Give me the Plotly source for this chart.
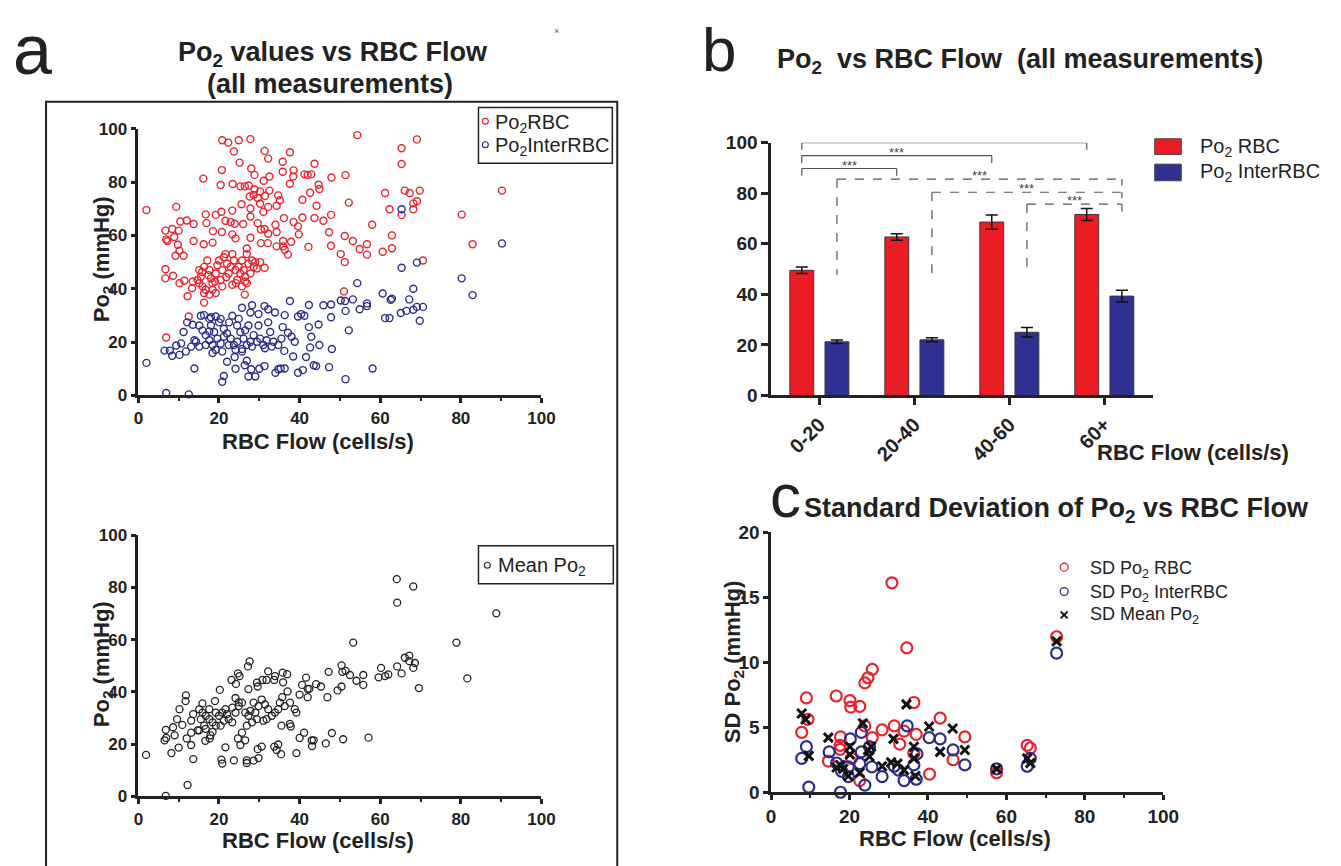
import plotly.graph_objects as go

W, H = 1341, 866
FONT = "Liberation Sans, Arial, sans-serif"
RED = "#e8232b"
BLUE = "#2b2e8c"
BAR_RED = "#ec1c24"
BAR_BLUE = "#2e3192"
INK = "#222222"

# ---------------- Panel a (top): Po2 RBC / Po2 InterRBC vs flow -------------
po2_rbc_points = [
    (2.0, 69.5), (20.8, 95.7), (22.3, 94.8), (24.9, 95.7), (27.8, 96.1), (23.7, 91.5),
    (31.3, 91.7), (32.2, 88.8), (37.6, 91.2), (35.8, 87.6), (25.1, 87.3), (20.7, 84.5),
    (16.1, 81.3), (28.0, 85.1), (28.8, 82.7), (31.1, 80.5), (32.5, 82.1), (38.5, 84.4),
    (38.4, 82.1), (35.8, 83.9), (37.6, 79.4), (41.2, 82.9), (42.0, 82.7), (42.9, 82.9),
    (43.7, 86.9), (47.9, 81.7), (51.4, 82.6), (54.3, 97.6), (65.3, 92.7), (65.3, 86.8),
    (69.1, 96.0), (90.2, 76.8), (61.2, 75.9), (66.1, 76.8), (67.3, 75.9), (69.8, 76.8),
    (69.1, 72.8), (68.2, 72.0), (68.2, 69.8), (62.3, 69.8), (65.3, 67.7), (80.2, 67.8),
    (82.9, 56.7), (70.6, 50.6), (58.0, 64.0), (62.9, 60.0), (62.9, 55.2), (60.6, 53.9),
    (56.7, 56.7), (56.7, 52.8), (54.9, 54.9), (53.2, 57.9), (51.2, 59.8), (50.2, 53.0),
    (51.2, 50.0), (52.2, 72.3), (47.8, 67.7), (47.3, 61.2), (47.8, 56.1), (45.9, 65.5),
    (44.2, 71.1), (44.9, 77.4), (44.7, 79.0), (42.6, 76.0), (40.7, 73.4), (40.7, 66.7),
    (43.7, 66.5), (42.2, 55.7), (39.6, 63.4), (39.8, 60.4), (38.5, 65.0), (37.9, 57.6),
    (37.1, 52.8), (36.3, 54.6), (35.9, 57.9), (36.1, 66.5), (35.1, 73.2), (34.7, 75.0),
    (34.3, 71.1), (32.5, 76.8), (31.4, 74.8), (31.0, 68.9), (32.2, 70.7), (30.2, 71.9),
    (29.6, 74.0), (28.6, 75.2), (28.8, 77.2), (27.4, 78.7), (26.4, 78.4), (25.3, 78.4),
    (23.4, 79.3), (20.4, 78.9), (30.2, 76.5), (27.6, 74.6), (25.6, 71.7), (27.8, 70.1),
    (23.3, 69.3), (20.6, 68.9), (19.2, 67.7), (16.7, 67.9), (16.9, 64.6), (21.6, 65.5),
    (22.9, 65.0), (23.9, 64.4), (26.0, 64.3), (27.8, 67.1), (29.6, 64.6), (31.3, 62.4),
    (30.4, 62.2), (34.0, 64.0), (34.3, 61.3), (32.2, 60.6), (30.4, 57.1), (32.1, 57.1),
    (34.3, 55.9), (35.9, 55.9), (23.3, 60.4), (24.1, 58.9), (27.8, 59.1), (20.7, 61.3),
    (18.5, 61.6), (16.2, 56.7), (18.4, 57.3), (13.7, 57.9), (13.7, 64.3), (12.0, 65.6),
    (10.4, 65.2), (9.4, 70.7), (8.4, 62.4), (6.7, 61.8), (10.0, 61.8), (6.9, 58.5),
    (7.2, 57.9), (8.9, 59.4), (9.8, 56.5), (10.2, 54.3), (9.2, 52.4), (11.2, 52.4),
    (6.7, 47.3), (6.7, 43.9), (8.6, 44.9), (10.2, 42.1), (11.4, 43.0), (13.5, 42.7),
    (13.3, 40.2), (12.2, 37.2), (12.5, 29.6), (6.9, 21.7), (26.4, 37.8), (51.0, 39.0),
    (26.9, 55.1), (26.9, 53.0), (15.1, 47.0), (15.5, 44.5), (16.3, 48.2), (17.1, 50.6),
    (17.6, 47.0), (18.0, 43.9), (15.9, 40.9), (16.7, 39.6), (17.6, 37.8), (18.4, 42.1),
    (19.2, 45.7), (19.6, 48.8), (20.0, 50.6), (20.4, 43.3), (20.8, 47.0), (21.2, 51.8),
    (21.6, 53.0), (22.0, 49.4), (22.4, 45.7), (22.9, 48.2), (23.3, 53.0), (23.7, 50.6),
    (24.1, 47.0), (24.5, 43.3), (24.9, 48.2), (25.3, 45.7), (25.7, 50.6), (26.1, 47.0),
    (26.5, 44.5), (26.9, 42.1), (27.3, 49.4), (27.8, 45.7), (28.2, 50.6), (28.6, 48.2),
    (29.0, 50.0), (29.4, 47.6), (30.2, 50.0), (31.3, 47.9), (16.3, 34.8), (15.1, 42.1),
    (18.4, 39.6), (20.8, 40.9), (23.3, 41.5), (25.7, 40.9), (16.3, 38.4), (19.2, 38.4),
    (14.7, 43.3), (15.8, 46.3), (17.4, 45.1), (19.0, 42.7), (21.8, 44.3), (24.2, 42.1),
    (26.5, 42.7),
]

po2_inter_points = [
    (2.0, 12.2), (6.9, 0.9), (12.5, 0.4), (65.3, 69.8), (90.2, 57.0), (69.1, 49.8),
    (65.3, 47.9), (80.2, 43.9), (82.9, 37.6), (68.2, 40.0), (67.2, 36.0), (70.6, 33.2),
    (69.1, 33.2), (68.2, 32.1), (66.5, 31.7), (65.1, 30.9), (69.8, 28.0), (62.9, 36.3),
    (62.6, 35.9), (60.6, 38.2), (62.3, 29.0), (61.2, 29.0), (56.7, 34.5), (56.7, 33.5),
    (54.9, 32.3), (53.2, 36.0), (54.3, 42.1), (51.3, 35.4), (51.4, 31.7), (50.2, 35.6),
    (52.2, 24.4), (51.4, 6.1), (58.1, 10.1), (47.8, 29.3), (47.8, 34.1), (45.9, 33.8),
    (48.0, 17.4), (47.3, 10.6), (44.9, 18.9), (44.7, 26.6), (42.3, 33.9), (42.3, 25.6),
    (42.9, 22.0), (42.6, 18.0), (41.6, 14.4), (43.5, 11.3), (44.1, 11.0), (39.6, 29.6),
    (40.4, 30.5), (41.2, 29.9), (39.6, 8.5), (40.8, 9.5), (37.6, 35.4), (36.3, 30.1),
    (35.8, 25.6), (37.1, 23.5), (38.0, 22.0), (38.8, 20.1), (38.4, 14.6), (36.2, 16.7),
    (36.3, 10.1), (35.3, 10.1), (34.7, 9.8), (34.0, 8.5), (31.3, 11.0), (30.0, 10.0),
    (29.0, 7.1), (27.3, 7.1), (28.0, 9.8), (26.4, 11.3), (26.9, 13.0), (24.1, 10.0),
    (25.7, 17.4), (23.9, 14.4), (22.0, 12.6), (20.8, 5.1), (21.2, 7.3), (13.9, 10.1),
    (6.5, 16.8), (8.4, 14.9), (10.2, 15.2), (7.8, 16.8), (9.4, 18.7), (10.6, 19.5),
    (11.2, 23.8), (12.1, 27.4), (13.5, 26.5), (13.9, 20.7), (15.5, 29.9), (16.3, 30.1),
    (18.0, 29.3), (19.2, 29.6), (20.4, 28.7), (23.3, 29.9), (25.7, 32.9), (28.2, 33.8),
    (31.3, 33.5), (32.2, 32.3), (33.9, 31.1), (27.8, 31.1), (29.8, 30.5), (15.1, 26.2),
    (15.9, 24.4), (16.7, 22.6), (17.6, 20.7), (18.4, 18.9), (19.2, 17.1), (16.7, 18.9),
    (18.0, 26.2), (18.8, 23.8), (19.6, 21.3), (20.4, 19.5), (21.2, 25.0), (22.0, 23.2),
    (22.9, 21.3), (23.7, 18.9), (24.5, 26.2), (25.3, 23.8), (26.1, 21.3), (26.9, 18.9),
    (27.8, 20.1), (28.6, 22.6), (29.4, 20.1), (30.2, 21.3), (31.0, 18.9), (31.8, 20.7),
    (32.7, 23.8), (33.5, 20.1), (34.7, 18.9), (35.5, 21.3), (22.5, 27.4), (20.0, 27.4),
    (17.6, 28.7), (24.9, 28.7), (27.3, 26.2), (29.8, 26.2), (32.2, 27.4), (20.8, 16.5),
    (18.4, 15.9), (24.1, 17.1), (14.3, 20.1), (15.1, 18.3), (13.1, 18.3), (11.8, 16.5),
    (22.4, 18.9), (25.7, 16.5), (28.2, 18.3), (31.4, 17.7), (33.1, 18.3), (17.6, 24.0),
    (21.2, 22.0), (24.5, 20.1), (26.5, 24.4),
]

# ---------------- Panel a (bottom): mean Po2 vs flow ------------------------
mean_po2_points = [
    (1.9, 15.9), (6.8, 0.2), (12.2, 4.4), (6.5, 21.5), (6.9, 22.4), (6.8, 25.5),
    (8.2, 16.6), (10.0, 18.7), (9.0, 23.4), (8.6, 26.5), (9.6, 29.6), (10.9, 27.4),
    (10.2, 33.4), (11.7, 36.5), (11.8, 38.7), (12.0, 22.2), (13.1, 19.7), (13.6, 14.3),
    (13.1, 24.4), (13.1, 29.0), (13.6, 31.5), (15.1, 25.3), (15.9, 35.6), (16.6, 21.3),
    (17.7, 22.2), (19.0, 36.5), (20.2, 40.8), (20.6, 14.1), (20.8, 12.6), (21.6, 18.8),
    (23.1, 44.6), (23.7, 13.8), (24.2, 43.1), (24.7, 47.1), (25.1, 46.1), (24.7, 22.2),
    (25.3, 19.7), (25.7, 24.4), (26.5, 21.5), (26.9, 12.8), (26.9, 13.8), (27.2, 49.8),
    (27.6, 51.7), (27.3, 41.1), (28.6, 13.7), (29.6, 18.1), (29.8, 14.7), (30.6, 19.1),
    (29.4, 43.6), (29.6, 42.1), (30.8, 44.6), (31.8, 44.6), (32.2, 47.9), (33.9, 46.1),
    (33.7, 44.6), (35.8, 47.4), (36.9, 46.8), (35.9, 43.7), (37.0, 40.2), (35.7, 38.0),
    (35.1, 35.9), (35.5, 27.1), (37.6, 27.8), (37.8, 26.8), (33.7, 19.1), (34.7, 19.9),
    (34.3, 17.8), (35.4, 16.2), (39.2, 16.6), (40.0, 22.4), (41.1, 24.4), (40.0, 39.0),
    (40.6, 42.7), (41.6, 45.5), (42.0, 41.2), (42.0, 38.0), (42.4, 41.2), (43.0, 21.5),
    (43.5, 21.5), (43.1, 19.3), (44.1, 43.0), (45.3, 42.1), (46.9, 38.0), (47.2, 47.7),
    (48.0, 24.3), (46.5, 20.3), (49.4, 40.6), (50.4, 42.1), (50.4, 50.2), (50.6, 47.7),
    (51.4, 48.1), (52.5, 46.5), (50.8, 21.9), (53.3, 58.9), (54.1, 44.3), (55.8, 46.5),
    (55.8, 42.7), (57.1, 22.5), (59.6, 45.6), (60.2, 49.2), (61.2, 46.1), (62.0, 46.7),
    (64.1, 83.2), (64.2, 74.2), (64.2, 49.8), (65.3, 47.1), (68.2, 80.4), (66.1, 53.1),
    (67.2, 53.9), (67.2, 51.8), (68.6, 51.1), (68.2, 49.2), (69.6, 41.5), (78.9, 58.9),
    (81.6, 45.2), (88.8, 70.1), (15.1, 33.4), (15.9, 32.1), (16.7, 30.9), (17.6, 29.6),
    (18.4, 28.4), (19.2, 27.1), (20.0, 30.9), (20.8, 32.1), (21.6, 33.4), (22.4, 29.6),
    (23.3, 28.4), (24.1, 32.1), (24.9, 34.6), (25.7, 35.9), (26.5, 32.1), (27.3, 30.9),
    (28.2, 28.4), (29.0, 32.1), (29.8, 34.6), (30.6, 37.1), (31.4, 35.2), (32.2, 33.4),
    (33.1, 30.9), (33.9, 32.1), (34.7, 33.4), (36.3, 34.6), (37.6, 35.9), (38.8, 33.4),
    (39.2, 32.1), (16.7, 25.9), (17.9, 23.4), (16.3, 27.1), (19.2, 32.1), (20.4, 27.1),
    (21.2, 29.0), (22.0, 31.5), (23.3, 34.0), (24.1, 37.7), (24.9, 36.0), (26.9, 27.1),
    (27.8, 32.8), (28.6, 35.9), (29.4, 29.6), (31.0, 29.0), (31.8, 29.6), (15.5, 29.6),
    (14.7, 25.3), (18.4, 24.7), (17.6, 33.4),
]

# ---------------- Panel b: binned means with SEM -----------------------------
flow_bins = ["0-20", "20-40", "40-60", "60+"]
bar_po2_rbc = [49.5, 62.7, 68.6, 71.6]
bar_po2_rbc_err = [1.3, 1.3, 2.8, 2.4]
bar_po2_inter = [21.2, 22.0, 25.0, 39.3]
bar_po2_inter_err = [0.7, 0.8, 1.9, 2.3]

# ---------------- Panel c: SD vs flow ----------------------------------------
sd_rbc_points = [
    (30.8, 16.1), (34.6, 11.1), (25.8, 9.45), (24.7, 8.8), (23.9, 8.4), (9.0, 7.25),
    (16.6, 7.4), (20.1, 7.05), (20.3, 6.55), (22.6, 6.6), (36.4, 6.9), (9.4, 5.6),
    (7.8, 4.6), (43.1, 5.7), (31.4, 5.1), (28.3, 4.8), (33.9, 4.7), (37.0, 4.45),
    (25.8, 4.2), (17.7, 4.25), (17.6, 3.6), (17.6, 3.3), (32.8, 3.7), (49.4, 4.25),
    (46.4, 2.5), (40.4, 1.4), (22.6, 0.9), (14.6, 2.4), (20.5, 2.6), (36.4, 3.0),
    (57.5, 1.5), (65.3, 3.6), (66.1, 3.4), (72.8, 11.95), (23.9, 5.1),
]
sd_inter_points = [
    (72.8, 10.7), (34.7, 5.1), (23.0, 4.6), (20.2, 4.1), (40.3, 4.2), (43.1, 4.1),
    (46.4, 3.25), (49.4, 2.1), (9.0, 3.5), (7.8, 2.6), (14.8, 3.1), (9.6, 0.4),
    (17.7, 0.0), (23.9, 0.55), (22.6, 2.2), (19.7, 1.95), (19.7, 1.2), (25.7, 1.95),
    (28.3, 1.2), (31.4, 2.0), (32.5, 1.7), (33.9, 0.9), (36.4, 2.1), (37.0, 1.0),
    (37.2, 2.95), (23.0, 3.1), (25.1, 3.5), (16.7, 2.25), (57.5, 1.8), (65.3, 2.0),
    (66.1, 2.6), (18.0, 1.6),
]
sd_mean_points = [
    (72.8, 11.6), (7.8, 6.05), (8.8, 5.6), (9.6, 2.8), (14.6, 4.2), (23.4, 5.3),
    (34.5, 6.75), (40.3, 5.05), (46.3, 4.9), (31.2, 4.1), (43.1, 3.1), (49.4, 3.25),
    (20.1, 3.5), (24.7, 3.25), (25.5, 3.5), (25.1, 2.75), (36.4, 3.5), (36.4, 2.6),
    (36.8, 1.25), (28.3, 2.0), (30.6, 2.3), (32.2, 2.2), (33.9, 1.7), (16.7, 1.9),
    (17.6, 2.1), (18.4, 1.8), (19.7, 1.25), (22.6, 1.5), (20.1, 2.9), (57.5, 1.8),
    (65.3, 2.6), (66.1, 2.25),
]


def split(points):
    return [p[0] for p in points], [p[1] for p in points]


def PX(x):
    return x / W


def PY(y):
    return 1 - y / H


fig = go.Figure()

# panel a top
x, y = split(po2_rbc_points)
fig.add_trace(go.Scatter(x=x, y=y, mode="markers", xaxis="x", yaxis="y", cliponaxis=False,
                         marker=dict(symbol="circle-open", size=7, color=RED, line=dict(width=1.4))))
x, y = split(po2_inter_points)
fig.add_trace(go.Scatter(x=x, y=y, mode="markers", xaxis="x", yaxis="y", cliponaxis=False,
                         marker=dict(symbol="circle-open", size=7, color=BLUE, line=dict(width=1.4))))
# panel a bottom
x, y = split(mean_po2_points)
fig.add_trace(go.Scatter(x=x, y=y, mode="markers", xaxis="x2", yaxis="y2", cliponaxis=False,
                         marker=dict(symbol="circle-open", size=7, color="#222", line=dict(width=1.3))))
# panel b bars
fig.add_trace(go.Bar(x=flow_bins, y=bar_po2_rbc, xaxis="x3", yaxis="y3",
                     marker=dict(color=BAR_RED, line=dict(color="#3a3a3a", width=1)),
                     error_y=dict(type="data", array=bar_po2_rbc_err, color="#111", thickness=1.5, width=6)))
fig.add_trace(go.Bar(x=flow_bins, y=bar_po2_inter, xaxis="x3", yaxis="y3",
                     marker=dict(color=BAR_BLUE, line=dict(color="#3a3a3a", width=1)),
                     error_y=dict(type="data", array=bar_po2_inter_err, color="#111", thickness=1.5, width=6)))
# panel c
x, y = split(sd_rbc_points)
fig.add_trace(go.Scatter(x=x, y=y, mode="markers", xaxis="x4", yaxis="y4", cliponaxis=False,
                         marker=dict(symbol="circle-open", size=11, color=RED, line=dict(width=2.2))))
x, y = split(sd_inter_points)
fig.add_trace(go.Scatter(x=x, y=y, mode="markers", xaxis="x4", yaxis="y4", cliponaxis=False,
                         marker=dict(symbol="circle-open", size=11, color=BLUE, line=dict(width=2.2))))
x, y = split(sd_mean_points)
fig.add_trace(go.Scatter(x=x, y=y, mode="markers", xaxis="x4", yaxis="y4", cliponaxis=False,
                         marker=dict(symbol="x-thin-open", size=9, color="#111", line=dict(width=3))))


def axis(**kw):
    d = dict(showgrid=False, zeroline=False, showline=True, linecolor=INK, linewidth=2.5,
             ticks="outside", ticklen=5, tickwidth=2.5, tickcolor=INK,
             tickfont=dict(family=FONT, size=17, color=INK, weight="bold"))
    d.update(kw)
    return d


minor10 = dict(dtick=10, ticks="outside", ticklen=3, tickwidth=2, tickcolor=INK)

fig.update_layout(
    autosize=True, margin=dict(l=0, r=0, t=0, b=0, pad=0),
    paper_bgcolor="white", plot_bgcolor="rgba(0,0,0,0)", showlegend=False,
    barmode="group", bargap=0.26, bargroupgap=0.32,
    font=dict(family=FONT, color=INK, size=16),
    xaxis=axis(domain=[PX(135.5), PX(545)], anchor="y", range=[0, 100], dtick=20, minor=minor10),
    yaxis=axis(domain=[PY(395), PY(121.7)], anchor="x", range=[0, 100], dtick=20),
    xaxis2=axis(domain=[PX(135.5), PX(545)], anchor="y2", range=[0, 100], dtick=20, minor=minor10),
    yaxis2=axis(domain=[PY(806), PY(538.3)], anchor="x2", range=[0, 100], dtick=20),
    xaxis3=axis(domain=[PX(778.3), PX(1166.7)], anchor="y3", range=[-0.508, 3.517],
                type="category", tickangle=-45, ticklen=7,
                tickfont=dict(family=FONT, size=20, color=INK, weight="bold")),
    yaxis3=axis(domain=[PY(395), PY(136)], anchor="x3", range=[0, 100], dtick=20, ticklen=7,
                tickfont=dict(family=FONT, size=19, color=INK, weight="bold")),
    xaxis4=axis(domain=[PX(778.3), PX(1176.7)], anchor="y4", range=[0, 100], dtick=20, minor=minor10,
                tickfont=dict(family=FONT, size=19, color=INK, weight="bold")),
    yaxis4=axis(domain=[PY(801.7), PY(535)], anchor="x4", range=[0, 20], dtick=5,
                tickfont=dict(family=FONT, size=19, color=INK, weight="bold")),
)

shapes = []
ann = []


def text(xp, yp, s, size, bold=False, xanchor="center", yanchor="middle", angle=0, color=INK):
    ann.append(dict(x=PX(xp), y=PY(yp), xref="paper", yref="paper", text=s, showarrow=False,
                    xanchor=xanchor, yanchor=yanchor, textangle=angle,
                    font=dict(family=FONT, size=size, color=color, weight="bold" if bold else "normal")))


# frame around panel a
shapes.append(dict(type="rect", xref="paper", yref="paper", x0=PX(41.7), x1=PX(622), y0=PY(94), y1=PY(880),
                   line=dict(color=INK, width=2)))

# panel labels and titles
text(28, 41, "a", 70)
text(725, 40, "b", 62)
text(793, 498, "c", 62)
text(560, 22, "×", 9, color="#555")
text(333, 45, "Po<sub>2</sub> values vs RBC Flow", 27, bold=True)
text(330, 76, "(all measurements)", 27, bold=True)
text(782, 52, "Po<sub>2</sub>\u00a0\u00a0vs RBC Flow\u00a0\u00a0(all measurements)", 27, bold=True, xanchor="left")
text(810, 512, "Standard Deviation of Po<sub>2</sub> vs RBC Flow", 27, bold=True, xanchor="left")

# axis titles
text(318, 442, "RBC Flow (cells/s)", 22, bold=True)
text(318, 851, "RBC Flow (cells/s)", 22, bold=True)
text(99, 255, "Po<sub>2</sub> (mmHg)", 22, bold=True, angle=-90)
text(99, 670, "Po<sub>2</sub> (mmHg)", 22, bold=True, angle=-90)
text(1207, 453, "RBC Flow (cells/s)", 22, bold=True)
text(965, 849, "RBC Flow (cells/s)", 22, bold=True)
text(740, 668, "SD Po<sub>2</sub> (mmHg)", 22, bold=True, angle=-90)

# legend panel a top
shapes.append(dict(type="rect", xref="paper", yref="paper", x0=PX(481), x1=PX(617), y0=PY(100), y1=PY(157),
                   line=dict(color=INK, width=1.5)))
for cy, col in [(114, RED), (138, BLUE)]:
    shapes.append(dict(type="circle", xref="paper", yref="paper", x0=PX(485), x1=PX(491),
                       y0=PY(cy - 3), y1=PY(cy + 3), line=dict(color=col, width=1.2)))
text(496, 116, "Po<sub>2</sub>RBC", 20, xanchor="left")
text(496, 140, "Po<sub>2</sub>InterRBC", 20, xanchor="left")

# legend panel a bottom
shapes.append(dict(type="rect", xref="paper", yref="paper", x0=PX(481), x1=PX(618), y0=PY(549), y1=PY(588),
                   line=dict(color=INK, width=1.5)))
shapes.append(dict(type="circle", xref="paper", yref="paper", x0=PX(487), x1=PX(493),
                   y0=PY(566), y1=PY(572), line=dict(color="#333", width=1.2)))
text(499, 570, "Mean Po<sub>2</sub>", 20, xanchor="left")

# legend panel b
for (y0, y1), col in [((132, 148), BAR_RED), ((158, 175), BAR_BLUE)]:
    shapes.append(dict(type="rect", xref="paper", yref="paper", x0=PX(1168), x1=PX(1195), y0=PY(y0), y1=PY(y1),
                       fillcolor=col, line=dict(color="#444", width=1)))
text(1212, 141, "Po<sub>2</sub> RBC", 20, xanchor="left")
text(1212, 167, "Po<sub>2</sub> InterRBC", 20, xanchor="left")

# legend panel c
for cy, col in [(571, RED), (596, BLUE)]:
    shapes.append(dict(type="circle", xref="paper", yref="paper", x0=PX(1072), x1=PX(1080),
                       y0=PY(cy - 4), y1=PY(cy + 4), line=dict(color=col, width=1.3)))
for dx in (-1, 1):
    shapes.append(dict(type="line", xref="paper", yref="paper", x0=PX(1076 - 3.5), x1=PX(1076 + 3.5),
                       y0=PY(620 - 3.5 * dx), y1=PY(620 + 3.5 * dx), line=dict(color="#111", width=2)))
text(1100, 573, "SD Po<sub>2</sub> RBC", 18, xanchor="left")
text(1100, 598, "SD Po<sub>2</sub> InterRBC", 18, xanchor="left")
text(1100, 621, "SD Mean Po<sub>2</sub>", 18, xanchor="left")

# significance brackets (panel b), in bar-axis data units
red_c = [i - 0.185 for i in range(4)]
blue_c = [i + 0.185 for i in range(4)]


def seg(x0, y0, x1, y1, dash="solid"):
    shapes.append(dict(type="line", xref="x3", yref="y3", x0=x0, y0=y0, x1=x1, y1=y1,
                       line=dict(color="#555", width=1.2, dash=dash)))


def stars(xc, yc):
    ann.append(dict(x=xc, y=yc, xref="x3", yref="y3", text="***", showarrow=False,
                    font=dict(family=FONT, size=13, color="#444"), yanchor="middle"))


for j, (top, drop) in zip([1, 2, 3], [(89.8, 86.9), (94.9, 92.0), (100.0, 97.2)]):
    seg(red_c[0], top, red_c[j], top)
    seg(red_c[0], top, red_c[0], drop)
    seg(red_c[j], top, red_c[j], drop)
    stars((red_c[0] + red_c[j]) / 2, top + 1.3)

for j, (top, rdrop) in zip([0, 1, 2], [(85.6, 83.0), (80.4, 78.0), (75.7, 72.7)]):
    seg(blue_c[j], top, blue_c[3], top, "dash")
    seg(blue_c[j], top, blue_c[j], 47.6, "dash")
    seg(blue_c[3], top, blue_c[3], rdrop, "dash")
    stars((blue_c[j] + blue_c[3]) / 2, top + 1.4)

fig.update_layout(shapes=shapes, annotations=ann)
fig.write_html(
    "out.html",
    default_width="100vw",
    default_height="100vh",
    config={"displayModeBar": False},
    post_script="document.body.style.margin='0';document.documentElement.style.overflow='hidden';",
)
